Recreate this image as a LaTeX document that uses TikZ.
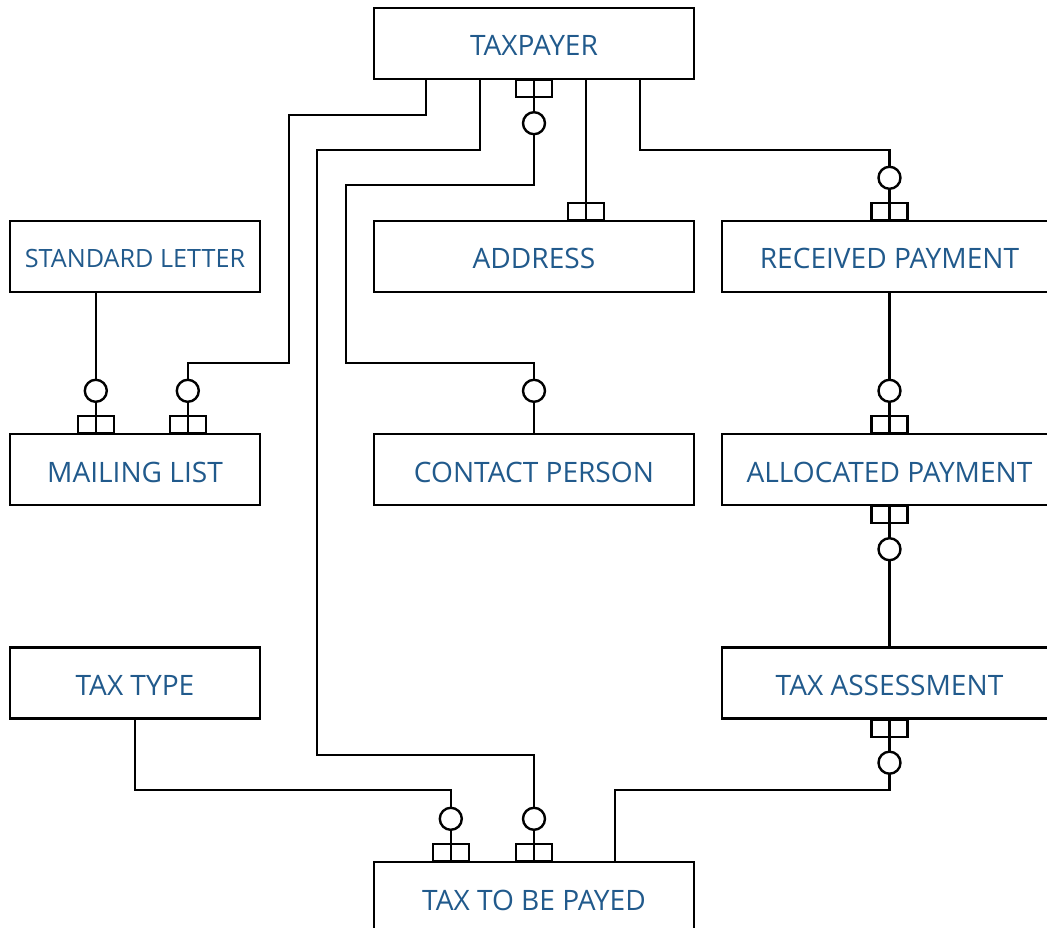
\documentclass[tikz,border=0pt]{standalone}
\usepackage{fontspec}
\setmainfont{Open Sans}
\usetikzlibrary{calc}
\definecolor{txt}{RGB}{33,90,140}
\newcommand\boxtop[1]{%
  \draw ($(#1)+(-18,-17)$) rectangle ($(#1)+(18,0)$);}
\newcommand\manytop[1]{%
  \boxtop{#1}
  \draw[fill=white] ($(#1)+(0,-42)$) circle[radius=11pt];}
\newcommand\manybot[1]{%
  \draw ($(#1)+(-18,0)$) rectangle ($(#1)+(18,17)$);
  \draw[fill=white] ($(#1)+(0,43)$) circle[radius=11pt];}
\newcommand\opttop[1]{%
  \draw[fill=white] ($(#1)+(0,-42)$) circle[radius=11pt];}
\begin{document}
\begin{tikzpicture}[x=1pt,y=-1pt,line width=2.4pt,
  ent/.style={draw,rectangle,fill=white,inner sep=0pt,text=txt,
    font=\fontsize{28.1}{30}\selectfont,minimum height=71pt,
    text height=25pt,text depth=0pt},
  wmid/.style={minimum width=320pt},
  wleft/.style={minimum width=250pt},
  wright/.style={minimum width=335pt}]
\clip (0,0) rectangle (1047,928);
\fill[white] (0,0) rectangle (1047,928);
% entities
\node[ent,wmid]   (tp) at (534,43.5)   {TAXPAYER};
\node[ent,wleft,font=\fontsize{25.2}{27}\selectfont,text height=21pt] (sl) at (135,256.5) {STANDARD LETTER};
\node[ent,wmid]   (ad) at (534,256.5)  {ADDRESS};
\node[ent,wright] (rp) at (889.5,256.5) {RECEIVED PAYMENT};
\node[ent,wleft]  (ml) at (135,469.5)  {MAILING LIST};
\node[ent,wmid]   (cp) at (534,469.5)  {CONTACT PERSON};
\node[ent,wright] (ap) at (889.5,469.5) {ALLOCATED PAYMENT};
\node[ent,wleft]  (tt) at (135,683)    {TAX TYPE};
\node[ent,wright] (ta) at (889.5,683)  {TAX ASSESSMENT};
\node[ent,wmid]   (tb) at (534,897.5)  {TAX TO BE PAYED};
% connector end points
\coordinate (tp1) at ($(tp.south west)+(53,0)$);
\coordinate (tp2) at ($(tp.south west)+(107,0)$);
\coordinate (tp3) at (tp.south);
\coordinate (tp4) at ($(tp.south west)+(213,0)$);
\coordinate (tp5) at ($(tp.south west)+(267,0)$);
\coordinate (ml1) at ($(ml.north west)+(87,0)$);
\coordinate (ml2) at ($(ml.north west)+(179,0)$);
\coordinate (sl1) at ($(sl.south west)+(87,0)$);
\coordinate (ad1) at (tp4 |- ad.north);
\coordinate (tb1) at ($(tb.north west)+(78,0)$);
\coordinate (tb2) at (tb.north);
\coordinate (tb3) at ($(tb.north west)+(242,0)$);
% connectors
\draw (tp1) |- (289,115) |- (289,363) -| (ml2);
\draw (tp2) |- (317,150) |- (317,755) -| (tb2);
\draw (tp3) |- (346,185) |- (346,363) -| (cp.north);
\draw (tp4) -- (ad1);
\draw (tp5) |- (rp.north |- 0,150) -- (rp.north);
\draw (sl1) -- (ml1);
\draw (rp.south) -- (ap.north);
\draw (ap.south) -- (ta.north);
\draw (ta.south) |- (tb3 |- 0,790) -- (tb3);
\draw (tt.south) |- (tb1 |- 0,790) -- (tb1);
% cardinality marks
\manytop{ml1}
\manytop{ml2}
\manytop{tb1}
\manytop{tb2}
\boxtop{ad1}
\manytop{rp.north}
\manytop{ap.north}
\manybot{tp3}
\manybot{ap.south}
\manybot{ta.south}
\opttop{cp.north}
\end{tikzpicture}
\end{document}
